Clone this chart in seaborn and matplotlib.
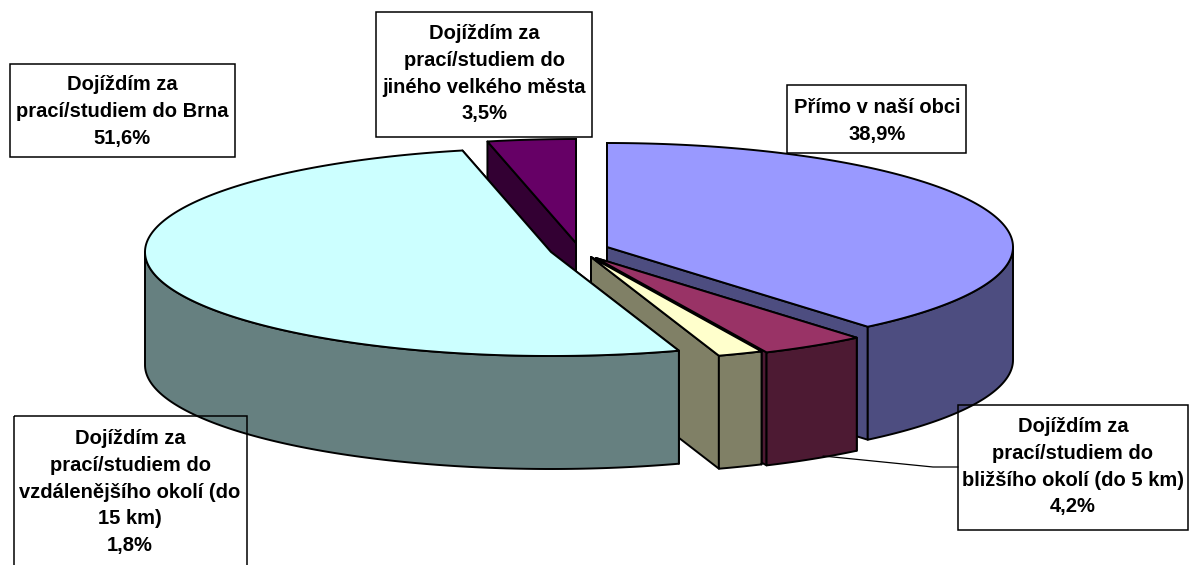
import numpy as np
import matplotlib.pyplot as plt
from matplotlib.patches import Rectangle
import seaborn as sns

### data ###
names = ['Přímo v naší obci',
         'Dojíždím za\nprací/studiem do\nbližšího okolí (do 5 km)',
         'Dojíždím za\nprací/studiem do\nvzdálenějšího okolí (do\n15 km)',
         'Dojíždím za\nprací/studiem do Brna',
         'Dojíždím za\nprací/studiem do\njiného velkého města']
values = [38.9, 4.2, 1.8, 51.6, 3.5]

### layout (pixels of the picture) ###
apex_x = [607, 596, 591, 551, 576]
apex_y = [247, 258, 257, 252, 243]
RX, RY, DEPTH = 406, 104, 113
boxes = [(787, 85, 179, 68), (958, 405, 230, 125), (14, 416, 233, 160),
         (10, 64, 225, 93), (376, 12, 216, 125)]
text_x = [877, 1073, 130, 122, 484]
text_top = [98, 417, 429, 75, 24]
top_colors = sns.color_palette(['#9999FF', '#993366', '#FFFFCC', '#CCFFFF', '#660066'])
draw_order = [4, 0, 1, 2, 3]
LW = 1.4

sns.set_theme(style='white')
plt.rcParams['font.family'] = ['Liberation Sans', 'DejaVu Sans']

fig = plt.figure(figsize=(11.89, 5.65), dpi=100)
ax = fig.add_axes([0, 0, 1, 1])
ax.set_xlim(0, 1189)
ax.set_ylim(565, 0)
ax.axis('off')

# angles run clockwise from the top, as in the old Excel 3D pie
edges = np.concatenate([[0], np.cumsum(values)]) / np.sum(values) * 2 * np.pi


def rim(i, t):
    return apex_x[i] + RX * np.sin(t), apex_y[i] - RY * np.cos(t)


def draw_slice(i):
    dark = tuple(c * 0.5 for c in top_colors[i])
    t0, t1 = edges[i], edges[i + 1]
    style = dict(edgecolor='black', linewidth=LW, joinstyle='round')

    # radial walls
    for t in (t0, t1):
        x, y = rim(i, t)
        ax.fill([apex_x[i], x, x, apex_x[i]],
                [apex_y[i], y, y + DEPTH, apex_y[i] + DEPTH], color=dark, **style)

    # outer wall, only the front half of the ellipse can be seen
    a, b = max(t0, np.pi / 2), min(t1, 3 * np.pi / 2)
    if a < b:
        t = np.linspace(a, b, 120)
        x, y = rim(i, t)
        ax.fill(np.r_[x, x[::-1]], np.r_[y, y[::-1] + DEPTH], color=dark, **style)

    # top
    t = np.linspace(t0, t1, 200)
    x, y = rim(i, t)
    ax.fill(np.r_[apex_x[i], x], np.r_[apex_y[i], y], color=top_colors[i], **style)


for i in draw_order:
    draw_slice(i)

# leader line of the small slice
ax.plot([823, 933, 958], [456, 467, 467], color='black', lw=0.9)

# labels
for i in range(len(values)):
    bx, by, bw, bh = boxes[i]
    ax.add_patch(Rectangle((bx, by), bw, bh, facecolor='none', edgecolor='black', lw=1.1, zorder=5))
    label = names[i] + '\n' + f'{values[i]:.1f}'.replace('.', ',') + '%'
    ax.text(text_x[i], text_top[i], label, ha='center', va='top', fontsize=14.5,
            fontweight='bold', color='black', linespacing=1.52, zorder=6)

sns.despine(ax=ax, left=True, bottom=True)
fig.savefig('out.png', dpi=100)
